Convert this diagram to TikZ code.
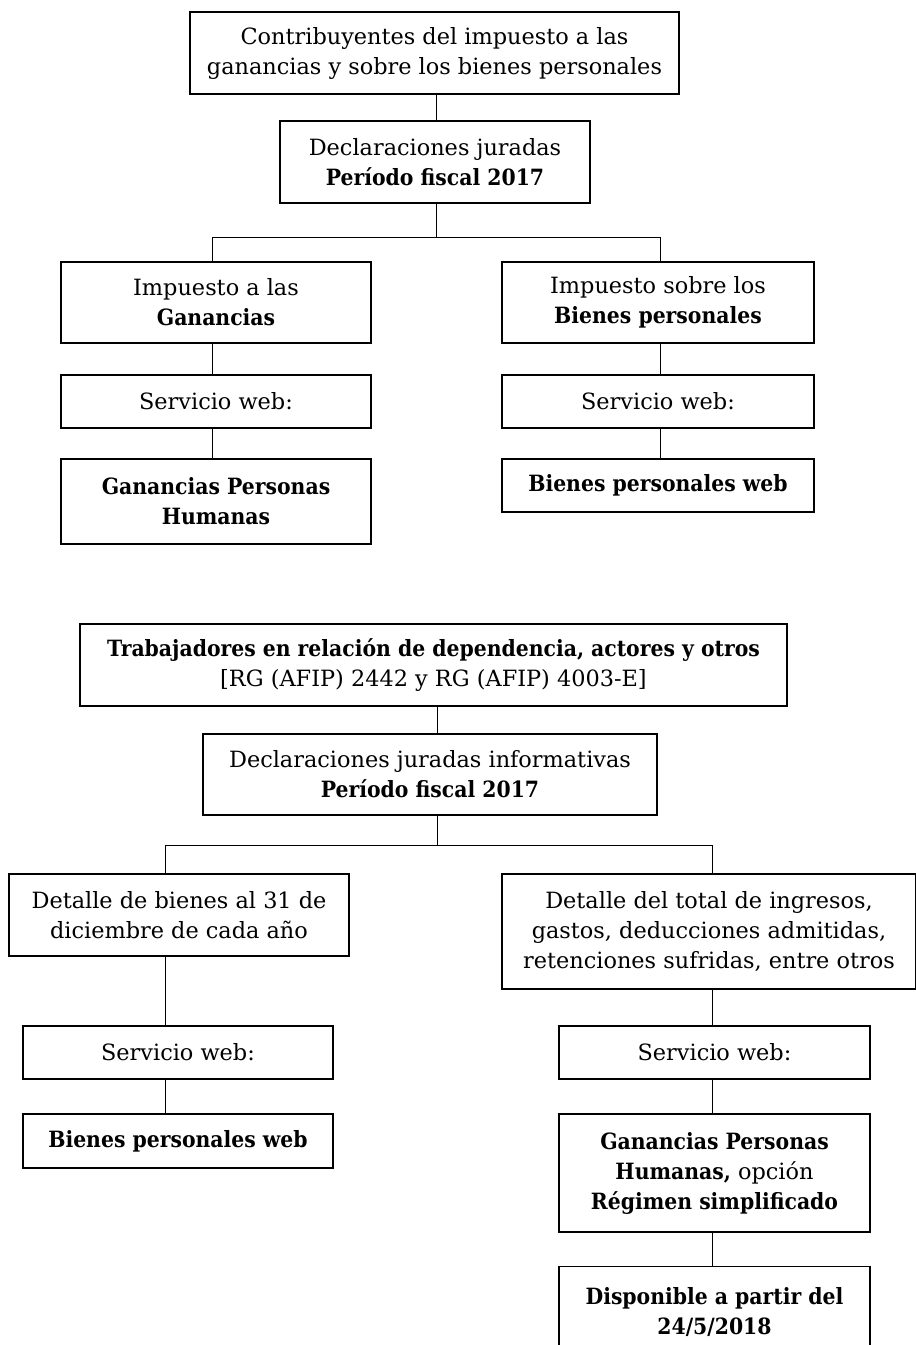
\documentclass[tikz,border=0pt]{standalone}
\usepackage{fontspec}
\setmainfont{DejaVu Serif}[BoldFeatures={FakeStretch=0.91}]
\begin{document}
\begin{tikzpicture}[x=1pt,y=-1pt,
  box/.style={draw, line width=1.3pt, inner sep=0pt, align=center,
    font=\fontsize{22.4}{30}\selectfont},
  conn/.style={line width=1pt}]
\useasboundingbox (0,0) rectangle (916,1345);
% top section
\node[box, minimum width=489pt, minimum height=82pt] (A) at (434.5,53)
  {Contribuyentes del impuesto a las\\ganancias y sobre los bienes personales};
\node[box, minimum width=310pt, minimum height=82pt] (B) at (435,162)
  {Declaraciones juradas\\\textbf{Período fiscal 2017}};
\node[box, minimum width=310pt, minimum height=81pt] (C1) at (216,302.5)
  {Impuesto a las\\\textbf{Ganancias}};
\node[box, minimum width=312pt, minimum height=81pt] (C2) at (658,302.5)
  {Impuesto sobre los\\\textbf{Bienes personales}};
\node[box, minimum width=310pt, minimum height=53pt] (D1) at (216,401.5) {Servicio web:};
\node[box, minimum width=312pt, minimum height=53pt] (D2) at (658,401.5) {Servicio web:};
\node[box, minimum width=310pt, minimum height=85pt] (E1) at (216,501.5)
  {\textbf{Ganancias Personas}\\\textbf{Humanas}};
\node[box, minimum width=312pt, minimum height=53pt] (E2) at (658,485.5)
  {\textbf{Bienes personales web}};
\coordinate (bl1) at (212,237);
\coordinate (br1) at (660,237);
\draw[conn] (A.south -| 436,0) -- (B.north -| 436,0);
\draw[conn] (B.south -| 436,0) -- (436,237);
\draw[conn] (bl1) -- (br1);
\draw[conn] (bl1) -- (bl1 |- C1.north);
\draw[conn] (br1) -- (br1 |- C2.north);
\draw[conn] (C1.south -| bl1) -- (D1.north -| bl1);
\draw[conn] (D1.south -| bl1) -- (E1.north -| bl1);
\draw[conn] (C2.south -| br1) -- (D2.north -| br1);
\draw[conn] (D2.south -| br1) -- (E2.north -| br1);
% bottom section
\node[box, minimum width=707pt, minimum height=82pt] (F) at (433.5,665)
  {\textbf{Trabajadores en relación de dependencia, actores y otros}\\{}[RG (AFIP) 2442 y RG (AFIP) 4003-E]};
\node[box, minimum width=454pt, minimum height=81pt] (G) at (430,774.5)
  {Declaraciones juradas informativas\\\textbf{Período fiscal 2017}};
\node[box, minimum width=340pt, minimum height=82pt] (H1) at (179,915)
  {Detalle de bienes al 31 de\\diciembre de cada año};
\node[box, minimum width=414pt, minimum height=115pt] (H2) at (709,931.5)
  {Detalle del total de ingresos,\\gastos, deducciones admitidas,\\retenciones sufridas, entre otros};
\node[box, minimum width=310pt, minimum height=53pt] (I1) at (178,1052.5) {Servicio web:};
\node[box, minimum width=311pt, minimum height=53pt] (I2) at (714.5,1052.5) {Servicio web:};
\node[box, minimum width=310pt, minimum height=54pt] (J1) at (178,1141)
  {\textbf{Bienes personales web}};
\node[box, minimum width=311pt, minimum height=118pt] (J2) at (714.5,1173)
  {\textbf{Ganancias Personas}\\\textbf{Humanas,} opción\\\textbf{Régimen simplificado}};
\node[box, minimum width=311pt, minimum height=90pt, anchor=north] (K) at (714.5,1266)
  {\textbf{Disponible a partir del}\\\textbf{24/5/2018}};
\coordinate (bl2) at (165,845);
\coordinate (br2) at (712,845);
\draw[conn] (F.south -| 437.5,0) -- (G.north -| 437.5,0);
\draw[conn] (G.south -| 437.5,0) -- (437.5,845);
\draw[conn] (bl2) -- (br2);
\draw[conn] (bl2) -- (bl2 |- H1.north);
\draw[conn] (br2) -- (br2 |- H2.north);
\draw[conn] (H1.south -| bl2) -- (I1.north -| bl2);
\draw[conn] (I1.south -| bl2) -- (J1.north -| bl2);
\draw[conn] (H2.south -| br2) -- (I2.north -| br2);
\draw[conn] (I2.south -| br2) -- (J2.north -| br2);
\draw[conn] (J2.south -| br2) -- (K.north -| br2);
\end{tikzpicture}
\end{document}
